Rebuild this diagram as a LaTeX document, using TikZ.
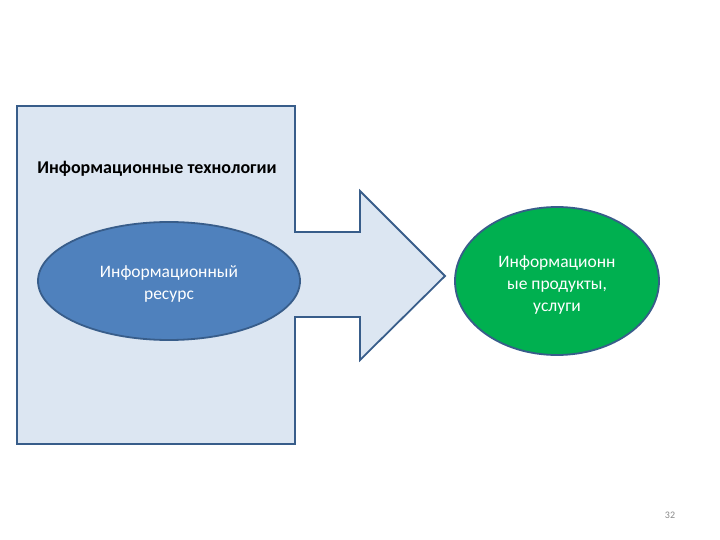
\documentclass[tikz,border=0pt]{standalone}
\usepackage{fontspec}
\setmainfont{Carlito}
\usetikzlibrary{shapes.geometric}
\definecolor{panelblue}{RGB}{220,230,242}
\definecolor{edgeblue}{RGB}{56,93,138}
\definecolor{resblue}{RGB}{79,129,189}
\definecolor{prodgreen}{RGB}{0,176,80}
\definecolor{numgray}{RGB}{137,137,137}

\begin{document}
\begin{tikzpicture}[x=1pt, y=-1pt,
  oval/.style={ellipse, draw=edgeblue, line width=1.8pt, inner sep=0pt},
  ovaltext/.style={text=white, align=center, font=\fontsize{17.5}{22}\selectfont}]
  \useasboundingbox (0,0) rectangle (720,540);

  % Panel with the big arrow
  \draw[edgeblue, line width=1.8pt, fill=panelblue, line join=miter]
    (17,106) -- (295,106) -- (295,232) -- (360,232) -- (360,191) -- (445,276)
    -- (360,360) -- (360,317) -- (295,317) -- (295,444) -- (17,444) -- cycle;
  \node[font=\bfseries\fontsize{18}{20}\selectfont] (title) at (157,169) {Информационные технологии};

  % Resource and products
  \node[oval, fill=resblue, minimum width=262pt, minimum height=118pt] (res) at (169,281) {};
  \node[ovaltext] at ([yshift=-3pt]res.center) {Информационный\\ресурс};
  \node[oval, fill=prodgreen, minimum width=204pt, minimum height=148pt] (prod) at (557,281) {};
  \node[ovaltext] at ([yshift=-4pt]prod.center) {Информационн\\ые продукты,\\услуги};

  % Slide number
  \node[text=numgray, font=\fontsize{10}{12}\selectfont] (page) at (670,515) {32};
\end{tikzpicture}
\end{document}
